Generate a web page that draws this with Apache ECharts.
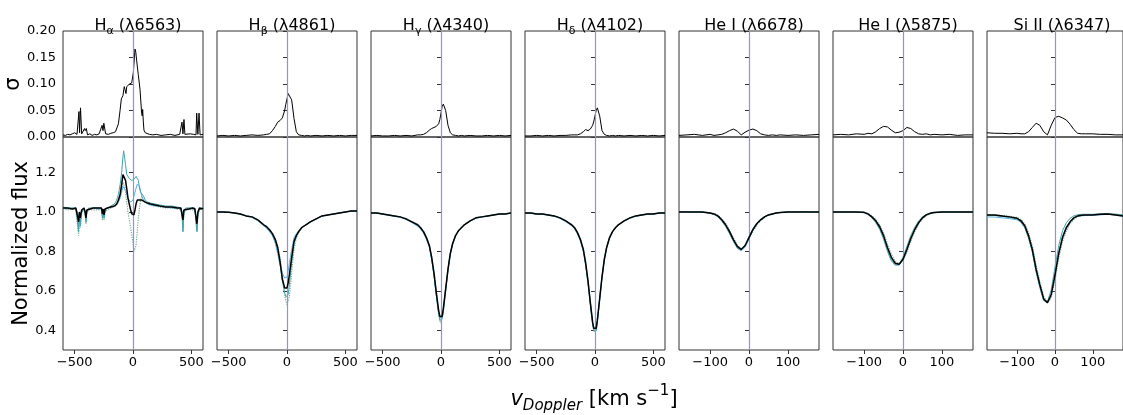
<!DOCTYPE html>
<html>
<head>
<meta charset="utf-8">
<script src="https://cdn.jsdelivr.net/npm/echarts@6/dist/echarts.min.js"></script>
<style>
  html, body { margin: 0; padding: 0; background: #fff; }
  #chart { width: 1123px; height: 415px; }
</style>
</head>
<body>
<div id="chart"></div>
<script>
// ---------- Balmer Hα (λ6563) ----------
const haSigV = [-600,-580,-560,-540,-520,-500,-480,-470,-463,-458,-450,-440,-425,-415,-410,-400,-390,-370,-350,-330,-310,-290,-275,-265,-257,-250,-242,-235,-225,-210,-190,-170,-150,-137,-125,-111,-100,-86,-75,-69,-60,-54,-43,-30,-11,3,17,24,31,45,60,74,79,83,88,94,105,117,140,170,200,240,280,320,360,400,415,420,428,437,445,460,490,520,540,546,556,566,575,590,600];
const haSig = [0.004,0.003,0.005,0.004,0.006,0.008,0.005,0.008,0.048,0.008,0.055,0.006,0.005,0.016,0.012,0.016,0.004,0.006,0.003,0.005,0.004,0.006,0.005,0.022,0.012,0.026,0.028,0.006,0.008,0.005,0.007,0.008,0.010,0.012,0.025,0.050,0.072,0.078,0.095,0.090,0.082,0.095,0.094,0.100,0.102,0.122,0.166,0.160,0.145,0.118,0.090,0.045,0.040,0.052,0.030,0.013,0.008,0.006,0.005,0.004,0.005,0.003,0.004,0.005,0.003,0.005,0.004,0.028,0.006,0.033,0.005,0.004,0.006,0.005,0.004,0.045,0.005,0.045,0.004,0.006,0.005];

const haFluxV = [-600,-560,-520,-490,-475,-466,-460,-452,-440,-420,-410,-403,-396,-380,-340,-300,-270,-262,-255,-248,-240,-220,-190,-160,-140,-125,-110,-97,-86,-80,-72,-64,-54,-43,-32,-20,-10,0,8,17,26,36,46,56,66,76,90,105,125,150,190,230,280,330,380,410,420,428,436,450,480,510,530,540,548,556,570,590,600];
const haBlack = [1.020,1.020,1.015,1.020,1.010,0.950,1.000,0.970,1.010,1.020,1.000,0.970,1.010,1.020,1.020,1.020,1.020,0.990,1.015,0.985,1.015,1.020,1.025,1.030,1.040,1.060,1.090,1.140,1.190,1.200,1.190,1.160,1.120,1.070,1.040,1.010,0.990,0.980,0.985,1.010,1.040,1.060,1.065,1.060,1.070,1.060,1.055,1.050,1.045,1.040,1.035,1.030,1.025,1.025,1.020,1.020,1.010,0.960,1.010,1.020,1.015,1.020,1.015,1.020,0.940,1.000,1.020,1.015,1.020];
const haTeal = [1.025,1.020,1.020,1.020,1.010,0.900,0.990,0.930,1.000,1.020,0.990,0.950,1.000,1.020,1.020,1.020,1.020,0.970,1.010,0.970,1.010,1.020,1.030,1.040,1.060,1.090,1.140,1.200,1.280,1.310,1.300,1.240,1.190,1.180,1.170,1.170,1.160,1.170,1.165,1.170,1.180,1.170,1.160,1.120,1.100,1.090,1.080,1.060,1.050,1.045,1.040,1.035,1.030,1.030,1.025,1.020,1.000,0.900,1.000,1.020,1.020,1.020,1.020,1.020,0.900,0.990,1.020,1.020,1.020];
const haSky = [1.020,1.015,1.020,1.015,1.000,0.920,0.990,0.950,1.000,1.015,0.990,0.960,1.000,1.015,1.020,1.015,1.015,0.980,1.010,0.975,1.010,1.020,1.025,1.030,1.040,1.050,1.070,1.100,1.130,1.140,1.130,1.110,1.090,1.070,1.060,1.050,1.050,1.060,1.080,1.100,1.120,1.140,1.150,1.130,1.100,1.080,1.060,1.050,1.040,1.035,1.030,1.030,1.025,1.020,1.020,1.015,1.000,0.920,1.000,1.015,1.020,1.015,1.020,1.015,0.910,0.990,1.015,1.020,1.015];
const haDotted = [1.015,1.010,1.015,1.010,1.000,0.880,0.980,0.920,0.995,1.010,0.985,0.940,0.995,1.010,1.010,1.010,1.010,0.960,1.000,0.960,1.000,1.010,1.020,1.025,1.035,1.050,1.080,1.120,1.150,1.150,1.130,1.100,1.050,1.000,0.960,0.920,0.880,0.840,0.800,0.790,0.830,0.900,0.970,1.020,1.060,1.080,1.060,1.050,1.040,1.035,1.030,1.025,1.020,1.020,1.015,1.010,0.990,0.900,0.990,1.010,1.015,1.010,1.015,1.010,0.900,0.980,1.010,1.015,1.010];

// ---------- Hβ, Hγ, Hδ share one velocity grid ----------
const hV = [-600,-550,-500,-450,-400,-350,-300,-250,-200,-175,-150,-125,-100,-80,-60,-40,-20,-10,0,10,20,40,60,80,100,125,150,175,200,250,300,350,400,450,500,550,600];

const hbSig = [0.002,0.003,0.002,0.003,0.002,0.003,0.004,0.003,0.004,0.005,0.006,0.012,0.020,0.028,0.031,0.036,0.050,0.062,0.072,0.082,0.085,0.070,0.035,0.010,0.004,0.003,0.002,0.003,0.002,0.003,0.002,0.003,0.002,0.003,0.002,0.003,0.003];
const hbBlack = [1.000,1.000,0.998,0.995,0.990,0.980,0.975,0.960,0.935,0.925,0.910,0.890,0.860,0.820,0.750,0.660,0.615,0.605,0.615,0.640,0.680,0.770,0.850,0.880,0.900,0.920,0.930,0.940,0.950,0.965,0.980,0.985,0.990,0.995,1.000,1.005,1.005];
const hbTeal = [1.000,1.000,0.998,0.995,0.990,0.980,0.975,0.960,0.935,0.925,0.905,0.885,0.850,0.810,0.740,0.650,0.590,0.570,0.565,0.580,0.630,0.740,0.840,0.880,0.900,0.920,0.930,0.940,0.950,0.965,0.980,0.985,0.990,0.995,1.000,1.005,1.005];
const hbSky = [1.000,1.000,0.998,0.995,0.988,0.978,0.972,0.955,0.930,0.915,0.900,0.880,0.840,0.790,0.730,0.690,0.665,0.660,0.670,0.700,0.740,0.810,0.870,0.890,0.905,0.920,0.930,0.940,0.950,0.965,0.978,0.985,0.990,0.995,1.000,1.003,1.005];
const hbDotted = [1.000,1.000,0.998,0.995,0.990,0.980,0.975,0.960,0.935,0.925,0.910,0.890,0.860,0.830,0.770,0.680,0.580,0.550,0.530,0.535,0.570,0.690,0.810,0.870,0.895,0.918,0.930,0.940,0.950,0.965,0.980,0.985,0.990,0.995,1.000,1.005,1.005];

const hgSig = [0.002,0.003,0.002,0.002,0.003,0.002,0.003,0.002,0.004,0.004,0.005,0.008,0.013,0.016,0.018,0.020,0.025,0.033,0.045,0.058,0.062,0.050,0.022,0.008,0.004,0.003,0.002,0.003,0.002,0.003,0.002,0.002,0.003,0.002,0.003,0.002,0.003];
const hgBlack = [0.995,0.995,0.990,0.985,0.980,0.975,0.965,0.950,0.935,0.920,0.900,0.870,0.830,0.770,0.690,0.590,0.500,0.470,0.460,0.470,0.510,0.610,0.710,0.790,0.840,0.880,0.905,0.920,0.935,0.955,0.970,0.975,0.980,0.985,0.990,0.990,0.995];
const hgTeal = [0.995,0.995,0.990,0.985,0.980,0.975,0.965,0.950,0.932,0.917,0.897,0.866,0.825,0.762,0.680,0.575,0.480,0.450,0.445,0.460,0.500,0.600,0.705,0.785,0.838,0.878,0.903,0.920,0.935,0.955,0.970,0.975,0.980,0.985,0.990,0.990,0.995];
const hgSky = [0.995,0.993,0.988,0.983,0.978,0.972,0.962,0.946,0.928,0.913,0.893,0.862,0.820,0.758,0.675,0.575,0.490,0.462,0.455,0.468,0.510,0.612,0.712,0.792,0.842,0.880,0.905,0.920,0.934,0.954,0.968,0.974,0.979,0.984,0.988,0.990,0.993];
const hgDotted = [0.995,0.995,0.990,0.985,0.980,0.975,0.966,0.951,0.936,0.921,0.901,0.871,0.832,0.772,0.692,0.590,0.490,0.450,0.435,0.445,0.490,0.600,0.705,0.790,0.842,0.882,0.906,0.921,0.936,0.956,0.970,0.976,0.981,0.986,0.990,0.991,0.995];

const hdSig = [0.002,0.002,0.003,0.002,0.003,0.002,0.003,0.003,0.004,0.004,0.004,0.006,0.010,0.014,0.012,0.015,0.022,0.030,0.040,0.050,0.055,0.040,0.012,0.005,0.003,0.002,0.003,0.002,0.003,0.002,0.003,0.002,0.003,0.002,0.003,0.002,0.003];
const hdBlack = [0.995,0.995,0.990,0.990,0.985,0.980,0.970,0.955,0.935,0.920,0.895,0.860,0.810,0.740,0.650,0.540,0.440,0.410,0.400,0.410,0.450,0.560,0.670,0.760,0.820,0.870,0.900,0.920,0.935,0.955,0.970,0.980,0.985,0.990,0.990,0.995,0.995];
const hdTeal = [0.995,0.995,0.990,0.990,0.985,0.980,0.970,0.953,0.932,0.916,0.890,0.854,0.803,0.732,0.640,0.530,0.425,0.395,0.388,0.398,0.440,0.552,0.664,0.756,0.818,0.868,0.899,0.919,0.934,0.955,0.970,0.980,0.985,0.990,0.990,0.995,0.995];
const hdSky = [0.993,0.993,0.988,0.988,0.983,0.978,0.967,0.950,0.930,0.914,0.889,0.853,0.802,0.730,0.642,0.535,0.435,0.405,0.398,0.410,0.452,0.562,0.672,0.762,0.822,0.870,0.900,0.919,0.933,0.953,0.968,0.978,0.983,0.988,0.989,0.993,0.994];
const hdDotted = [0.995,0.995,0.990,0.990,0.985,0.980,0.970,0.955,0.936,0.921,0.896,0.861,0.812,0.744,0.656,0.545,0.440,0.400,0.390,0.400,0.445,0.560,0.672,0.764,0.824,0.872,0.902,0.921,0.936,0.956,0.971,0.981,0.986,0.990,0.991,0.995,0.996];

// ---------- He I and Si II share a narrower velocity grid ----------
const sV = [-180,-160,-140,-120,-100,-90,-80,-70,-60,-50,-40,-30,-20,-10,0,10,20,30,40,50,60,70,80,100,120,140,160,180];

const he1Sig = [0.003,0.004,0.005,0.003,0.005,0.003,0.004,0.005,0.008,0.012,0.015,0.011,0.004,0.009,0.013,0.015,0.012,0.006,0.004,0.003,0.004,0.003,0.004,0.003,0.004,0.003,0.004,0.005];
const he1Black = [1.000,1.000,1.000,1.000,0.995,0.990,0.980,0.960,0.935,0.900,0.860,0.825,0.810,0.830,0.870,0.910,0.940,0.960,0.975,0.985,0.990,0.995,0.997,1.000,1.000,1.000,1.000,1.000];
const he1Teal = [1.000,1.002,1.000,0.998,0.993,0.987,0.975,0.953,0.926,0.890,0.850,0.818,0.808,0.832,0.875,0.915,0.944,0.963,0.977,0.986,0.991,0.995,0.997,1.000,1.000,1.002,1.000,1.000];
const he1Sky = [1.002,1.000,0.998,1.000,0.994,0.988,0.978,0.957,0.930,0.893,0.852,0.815,0.802,0.822,0.865,0.907,0.938,0.959,0.974,0.984,0.990,0.994,0.997,0.999,1.001,1.000,0.999,1.002];
const he1Dotted = [0.998,1.000,1.000,1.000,0.996,0.992,0.983,0.965,0.942,0.908,0.868,0.832,0.812,0.826,0.862,0.902,0.934,0.956,0.972,0.983,0.989,0.994,0.997,1.000,1.000,1.000,1.000,0.998];

const he2Sig = [0.004,0.005,0.004,0.006,0.005,0.007,0.006,0.010,0.016,0.020,0.019,0.013,0.008,0.009,0.012,0.018,0.016,0.010,0.006,0.005,0.006,0.004,0.005,0.004,0.005,0.003,0.004,0.004];
const he2Black = [1.000,1.000,1.000,1.000,0.998,0.990,0.975,0.955,0.925,0.880,0.820,0.770,0.740,0.735,0.760,0.810,0.865,0.910,0.945,0.970,0.985,0.993,0.997,1.000,1.000,1.000,1.000,1.000];
const he2Teal = [1.000,1.000,1.000,0.999,0.996,0.987,0.970,0.946,0.912,0.862,0.800,0.752,0.730,0.735,0.770,0.825,0.880,0.922,0.953,0.975,0.988,0.994,0.998,1.000,1.000,1.000,1.000,1.000];
const he2Sky = [1.000,0.999,1.000,0.999,0.996,0.988,0.972,0.950,0.918,0.870,0.808,0.758,0.732,0.730,0.758,0.808,0.862,0.908,0.944,0.969,0.984,0.992,0.996,0.999,1.000,0.999,1.000,1.000];
const he2Dotted = [1.000,1.000,1.000,1.000,0.998,0.992,0.980,0.962,0.935,0.895,0.838,0.786,0.750,0.738,0.752,0.795,0.850,0.900,0.938,0.965,0.982,0.991,0.996,1.000,1.000,1.000,1.000,1.000];

const siSig = [0.008,0.007,0.007,0.006,0.007,0.006,0.006,0.010,0.018,0.026,0.022,0.010,0.004,0.022,0.037,0.039,0.036,0.032,0.024,0.014,0.007,0.006,0.006,0.006,0.005,0.005,0.004,0.004];
const siBlack = [0.985,0.985,0.980,0.975,0.968,0.955,0.930,0.880,0.810,0.710,0.630,0.560,0.540,0.580,0.680,0.790,0.870,0.920,0.950,0.970,0.980,0.983,0.985,0.985,0.988,0.990,0.985,0.980];
const siTeal = [0.983,0.982,0.978,0.972,0.964,0.950,0.922,0.868,0.795,0.695,0.615,0.550,0.545,0.605,0.720,0.830,0.905,0.945,0.968,0.980,0.986,0.988,0.988,0.988,0.990,0.992,0.988,0.985];
const siSky = [0.975,0.974,0.970,0.966,0.960,0.946,0.920,0.870,0.800,0.700,0.620,0.552,0.538,0.585,0.690,0.800,0.878,0.925,0.952,0.970,0.978,0.980,0.982,0.983,0.985,0.988,0.984,0.978];
const siDotted = [0.985,0.986,0.982,0.978,0.972,0.962,0.940,0.895,0.828,0.730,0.645,0.572,0.540,0.565,0.655,0.765,0.850,0.905,0.940,0.962,0.976,0.982,0.985,0.987,0.990,0.992,0.990,0.985];

// Panel titles (rich text: main / subscript tokens)
const titles = [
  '{m|H}{s|α}{m| (λ6563)}',
  '{m|H}{s|β}{m| (λ4861)}',
  '{m|H}{s|γ}{m| (λ4340)}',
  '{m|H}{s|δ}{m| (λ4102)}',
  '{m|He I (λ6678)}',
  '{m|He I (λ5875)}',
  '{m|Si II (λ6347)}'
];

const wideTicks = [-500, 0, 500];
const narrowTicks = [-100, 0, 100];
const sigmaTicks = [0, 0.05, 0.10, 0.15, 0.20];
const fluxTicks = [0.4, 0.6, 0.8, 1.0, 1.2];

// ---------- build panels ----------
const pair = (xs, ys) => xs.map((x, i) => [x, ys[i]]);
const panels = [
  { sigV: haSigV, sig: haSig, fV: haFluxV, black: haBlack, teal: haTeal, sky: haSky, dotted: haDotted, wide: true },
  { sigV: hV, sig: hbSig, fV: hV, black: hbBlack, teal: hbTeal, sky: hbSky, dotted: hbDotted, wide: true },
  { sigV: hV, sig: hgSig, fV: hV, black: hgBlack, teal: hgTeal, sky: hgSky, dotted: hgDotted, wide: true },
  { sigV: hV, sig: hdSig, fV: hV, black: hdBlack, teal: hdTeal, sky: hdSky, dotted: hdDotted, wide: true },
  { sigV: sV, sig: he1Sig, fV: sV, black: he1Black, teal: he1Teal, sky: he1Sky, dotted: he1Dotted, wide: false },
  { sigV: sV, sig: he2Sig, fV: sV, black: he2Black, teal: he2Teal, sky: he2Sky, dotted: he2Dotted, wide: false },
  { sigV: sV, sig: siSig, fV: sV, black: siBlack, teal: siTeal, sky: siSky, dotted: siDotted, wide: false }
];

const FONT = 'DejaVu Sans';
const LEFT0 = 63, STEP = 154, W = 140;
const TOP = 31, H_TOP = 106, H_BOT = 213;
const BORDER = '#333';
const ZERO_COLOR = '#8c8cff';
const minus = v => String(v).replace('-', '\u2212');

const grids = [], xAxes = [], yAxes = [], series = [], title = [];

// rest-velocity marker, one fresh copy per series
const zeroLine = () => ({
  silent: true, symbol: ['none', 'none'], animation: false,
  label: { show: false },
  emphasis: { disabled: true },
  lineStyle: { color: ZERO_COLOR, width: 1.2, type: 'solid', opacity: 1 },
  data: [{ xAxis: 0 }]
});

panels.forEach((p, i) => {
  const left = LEFT0 + STEP * i;
  const lim = p.wide ? 600 : 180;
  const ticks = p.wide ? wideTicks : narrowTicks;
  const first = i === 0;

  title.push({
    text: titles[i], left: left + W / 2, top: 7, textAlign: 'center',
    textStyle: {
      fontWeight: 'normal',
      rich: {
        m: { fontFamily: FONT, fontSize: 16, fontWeight: 'normal', color: '#000', lineHeight: 22, verticalAlign: 'bottom' },
        s: { fontFamily: FONT, fontSize: 11, fontWeight: 'normal', color: '#000', lineHeight: 22, verticalAlign: 'bottom', padding: [0, 0, -3, 0] }
      }
    }
  });

  // sigma panel
  grids.push({ left: left, top: TOP, width: W, height: H_TOP, show: true, borderColor: BORDER, borderWidth: 1, backgroundColor: 'transparent' });
  // flux panel
  grids.push({ left: left, top: TOP + H_TOP, width: W, height: H_BOT, show: true, borderColor: BORDER, borderWidth: 1, backgroundColor: 'transparent' });

  const gTop = 2 * i, gBot = 2 * i + 1;

  xAxes.push({
    gridIndex: gTop, type: 'value', min: -lim, max: lim,
    axisLine: { show: false }, splitLine: { show: false },
    axisTick: { show: false }, axisLabel: { show: false }
  });
  xAxes.push({
    gridIndex: gBot, type: 'value', min: -lim, max: lim,
    axisLine: { show: false }, splitLine: { show: false },
    axisTick: { show: true, customValues: ticks, length: 4, lineStyle: { color: BORDER } },
    axisLabel: { show: true, customValues: ticks, margin: 6, fontFamily: FONT, fontSize: 13, color: '#000', formatter: v => minus(v) }
  });

  yAxes.push({
    gridIndex: gTop, type: 'value', min: 0, max: 0.2,
    axisLine: { show: false }, splitLine: { show: false },
    axisTick: { show: true, customValues: sigmaTicks, length: 4, lineStyle: { color: BORDER } },
    axisLabel: { show: first, customValues: sigmaTicks, margin: 7, fontFamily: FONT, fontSize: 13, color: '#000', formatter: v => v.toFixed(2) }
  });
  yAxes.push({
    gridIndex: gBot, type: 'value', min: 0.3, max: 1.38,
    axisLine: { show: false }, splitLine: { show: false },
    axisTick: { show: true, customValues: fluxTicks, length: 4, lineStyle: { color: BORDER } },
    axisLabel: { show: first, customValues: fluxTicks, margin: 7, fontFamily: FONT, fontSize: 13, color: '#000', formatter: v => v.toFixed(1) }
  });

  const base = { type: 'line', showSymbol: false, symbol: 'none', animation: false, silent: true, clip: true };

  series.push(Object.assign({}, base, {
    xAxisIndex: gTop, yAxisIndex: gTop, data: pair(p.sigV, p.sig),
    lineStyle: { color: '#000', width: 1 }, markLine: zeroLine(), z: 3
  }));

  series.push(Object.assign({}, base, {
    xAxisIndex: gBot, yAxisIndex: gBot, data: pair(p.fV, p.dotted),
    lineStyle: { color: '#7aaa94', width: 1.2, type: 'dotted' }, markLine: zeroLine(), z: 2
  }));
  series.push(Object.assign({}, base, {
    xAxisIndex: gBot, yAxisIndex: gBot, data: pair(p.fV, p.sky),
    lineStyle: { color: '#5ab0e6', width: 1 }, z: 3
  }));
  series.push(Object.assign({}, base, {
    xAxisIndex: gBot, yAxisIndex: gBot, data: pair(p.fV, p.teal),
    lineStyle: { color: '#45a2a4', width: 1 }, z: 4
  }));
  series.push(Object.assign({}, base, {
    xAxisIndex: gBot, yAxisIndex: gBot, data: pair(p.fV, p.black),
    lineStyle: { color: '#000', width: 1.5 }, z: 5
  }));
});

const chart = echarts.init(document.getElementById('chart'), null, { renderer: 'canvas' });
chart.setOption({
  backgroundColor: '#fff',
  animation: false,
  title: title,
  grid: grids,
  xAxis: xAxes,
  yAxis: yAxes,
  series: series,
  graphic: [
    { type: 'text', x: 14, y: TOP + H_TOP / 2, rotation: Math.PI / 2,
      style: { text: 'σ', fontFamily: FONT, fontSize: 21, fill: '#000', align: 'center', verticalAlign: 'middle' } },
    { type: 'text', x: 22, y: TOP + H_TOP + H_BOT / 2, rotation: Math.PI / 2,
      style: { text: 'Normalized flux', fontFamily: FONT, fontSize: 21, fill: '#000', align: 'center', verticalAlign: 'middle' } },
    { type: 'text', x: 594, y: 397,
      style: {
        text: '{i|v}{is|Doppler}{m| [km s}{sup|\u22121}{m|]}',
        align: 'center', verticalAlign: 'middle',
        rich: {
          i: { fontFamily: FONT, fontStyle: 'italic', fontSize: 21, fill: '#000', lineHeight: 26, verticalAlign: 'bottom' },
          is: { fontFamily: FONT, fontStyle: 'italic', fontSize: 15, fill: '#000', lineHeight: 26, verticalAlign: 'bottom', padding: [0, 0, -4, 0] },
          m: { fontFamily: FONT, fontSize: 21, fill: '#000', lineHeight: 26, verticalAlign: 'bottom' },
          sup: { fontFamily: FONT, fontSize: 15, fill: '#000', lineHeight: 26, verticalAlign: 'top' }
        }
      } }
  ]
});
</script>
</body>
</html>
